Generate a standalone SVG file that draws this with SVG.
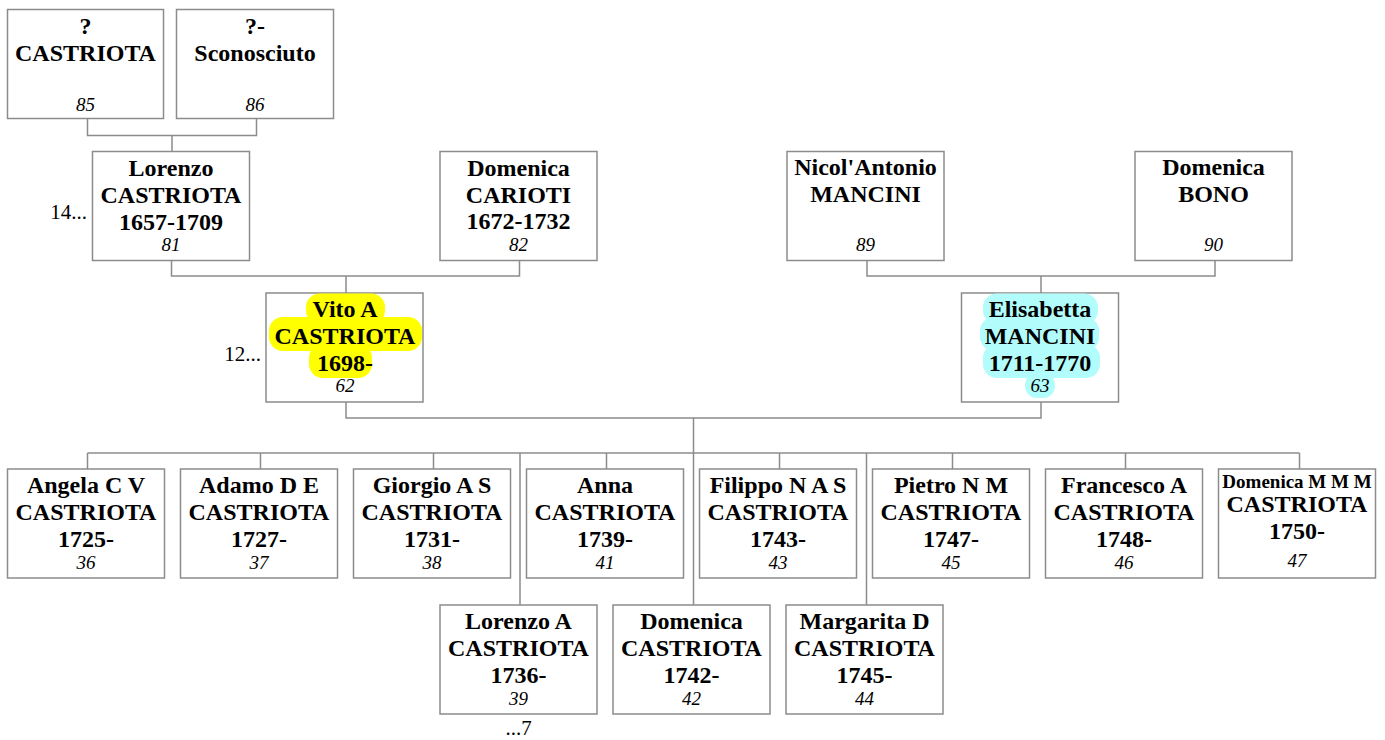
<svg xmlns="http://www.w3.org/2000/svg" width="1385" height="740" viewBox="0 0 1385 740">
<style>
rect.box{fill:#fff;stroke:#8c8c8c;stroke-width:1.5}
.n{font-family:"Liberation Serif","Times New Roman",serif;font-weight:bold;font-size:24px;text-anchor:middle;fill:#000}
.s{font-size:19px}
.id{font-family:"Liberation Serif","Times New Roman",serif;font-style:italic;font-size:19px;text-anchor:middle;fill:#000}
.lbl{font-family:"Liberation Serif","Times New Roman",serif;font-size:21px;fill:#000}
.conn path{fill:none;stroke:#8c8c8c;stroke-width:1.5}
.hy{fill:#ffff00}
.hc{fill:#b3fcfc}
</style>
<rect width="1385" height="740" fill="#fff"/>
<g class="conn" id="connectors">
<path d="M87.5,118.5 V135.5 H256.5 V118.5 M172,135.5 V151.5"/>
<path d="M171.5,260.5 V276 H519.5 V260.5 M346,276 V293"/>
<path d="M867,260.5 V276 H1215 V260.5 M1041,276 V293"/>
<path d="M346,402 V418 H1041 V402 M693.5,418 V453"/>
<path d="M87.5,453 H1299.5"/>
<path d="M87.5,453 V469 M260.5,453 V469 M433.5,453 V469 M606.5,453 V469 M779.5,453 V469 M952.5,453 V469 M1125.5,453 V469 M1299.5,453 V469"/>
<path d="M520,453 V605 M693.5,453 V605 M866.5,453 V605"/>
</g>
<g id="p85"><rect class="box" x="7.5" y="9.5" width="156" height="109"/>
<text class="n" x="85.5" y="34">?</text><text class="n" x="85.5" y="61">CASTRIOTA</text><text class="id" x="85.5" y="111">85</text></g>
<g id="p86"><rect class="box" x="176.5" y="9.5" width="157" height="109"/>
<text class="n" x="255" y="34">?-</text><text class="n" x="255" y="61">Sconosciuto</text><text class="id" x="255" y="111">86</text></g>
<g id="p81"><rect class="box" x="92.5" y="151.5" width="157" height="109"/>
<text class="n" x="171" y="176">Lorenzo</text><text class="n" x="171" y="203">CASTRIOTA</text><text class="n" x="171" y="229.5">1657-1709</text><text class="id" x="171" y="251">81</text>
<text class="lbl" x="87" y="219" text-anchor="end">14...</text></g>
<g id="p82"><rect class="box" x="440" y="151.5" width="157" height="109"/>
<text class="n" x="518.5" y="176">Domenica</text><text class="n" x="518.5" y="202.5">CARIOTI</text><text class="n" x="518.5" y="229">1672-1732</text><text class="id" x="518.5" y="251">82</text></g>
<g id="p89"><rect class="box" x="787" y="151.5" width="157" height="109"/>
<text class="n" x="865.5" y="175">Nicol'Antonio</text><text class="n" x="865.5" y="201.5">MANCINI</text><text class="id" x="865.5" y="251">89</text></g>
<g id="p90"><rect class="box" x="1135" y="151.5" width="157" height="109"/>
<text class="n" x="1213.5" y="175">Domenica</text><text class="n" x="1213.5" y="201.5">BONO</text><text class="id" x="1213.5" y="251">90</text></g>
<g id="p62"><rect class="box" x="266" y="293" width="157" height="109"/>
<rect class="hy" x="306" y="293.5" width="79" height="31" rx="14"/>
<rect class="hy" x="269" y="317" width="153" height="34" rx="14"/>
<rect class="hy" x="309" y="344" width="63" height="34" rx="14"/>
<text class="n" x="345" y="317">Vito A</text><text class="n" x="345" y="344">CASTRIOTA</text><text class="n" x="345" y="370.5">1698-</text><text class="id" x="345" y="392">62</text>
<text class="lbl" x="261" y="361" text-anchor="end">12...</text></g>
<g id="p63"><rect class="box" x="961.5" y="293" width="157" height="109"/>
<rect class="hc" x="983" y="293.5" width="115" height="31" rx="14"/>
<rect class="hc" x="980" y="317" width="119" height="34" rx="14"/>
<rect class="hc" x="983" y="344" width="117" height="34" rx="14"/>
<rect class="hc" x="1025" y="373" width="30" height="25" rx="12"/>
<text class="n" x="1040" y="317">Elisabetta</text><text class="n" x="1040" y="344">MANCINI</text><text class="n" x="1040" y="370.5">1711-1770</text><text class="id" x="1040" y="392">63</text></g>
<g id="p36"><rect class="box" x="7.5" y="469" width="157" height="109"/>
<text class="n" x="86" y="493">Angela C V</text><text class="n" x="86" y="519.5">CASTRIOTA</text><text class="n" x="86" y="546.5">1725-</text><text class="id" x="86" y="569">36</text></g>
<g id="p37"><rect class="box" x="180.5" y="469" width="157" height="109"/>
<text class="n" x="259" y="493">Adamo D E</text><text class="n" x="259" y="519.5">CASTRIOTA</text><text class="n" x="259" y="546.5">1727-</text><text class="id" x="259" y="569">37</text></g>
<g id="p38"><rect class="box" x="353.5" y="469" width="157" height="109"/>
<text class="n" x="432" y="493">Giorgio A S</text><text class="n" x="432" y="519.5">CASTRIOTA</text><text class="n" x="432" y="546.5">1731-</text><text class="id" x="432" y="569">38</text></g>
<g id="p41"><rect class="box" x="526.5" y="469" width="157" height="109"/>
<text class="n" x="605" y="493">Anna</text><text class="n" x="605" y="519.5">CASTRIOTA</text><text class="n" x="605" y="546.5">1739-</text><text class="id" x="605" y="569">41</text></g>
<g id="p43"><rect class="box" x="699.5" y="469" width="157" height="109"/>
<text class="n" x="778" y="493">Filippo N A S</text><text class="n" x="778" y="519.5">CASTRIOTA</text><text class="n" x="778" y="546.5">1743-</text><text class="id" x="778" y="569">43</text></g>
<g id="p45"><rect class="box" x="872.5" y="469" width="157" height="109"/>
<text class="n" x="951" y="493">Pietro N M</text><text class="n" x="951" y="519.5">CASTRIOTA</text><text class="n" x="951" y="546.5">1747-</text><text class="id" x="951" y="569">45</text></g>
<g id="p46"><rect class="box" x="1045.5" y="469" width="157" height="109"/>
<text class="n" x="1124" y="493">Francesco A</text><text class="n" x="1124" y="519.5">CASTRIOTA</text><text class="n" x="1124" y="546.5">1748-</text><text class="id" x="1124" y="569">46</text></g>
<g id="p47"><rect class="box" x="1218.5" y="469" width="157" height="109"/>
<text class="n s" x="1297" y="488">Domenica M M M</text><text class="n" x="1297" y="512">CASTRIOTA</text><text class="n" x="1297" y="538.5">1750-</text><text class="id" x="1297" y="567">47</text></g>
<g id="p39"><rect class="box" x="440" y="605" width="157" height="109"/>
<text class="n" x="518.5" y="629">Lorenzo A</text><text class="n" x="518.5" y="655.5">CASTRIOTA</text><text class="n" x="518.5" y="682.5">1736-</text><text class="id" x="518.5" y="705">39</text>
<text class="lbl" x="518.5" y="735" text-anchor="middle">...7</text></g>
<g id="p42"><rect class="box" x="613" y="605" width="157" height="109"/>
<text class="n" x="691.5" y="629">Domenica</text><text class="n" x="691.5" y="655.5">CASTRIOTA</text><text class="n" x="691.5" y="682.5">1742-</text><text class="id" x="691.5" y="705">42</text></g>
<g id="p44"><rect class="box" x="786" y="605" width="157" height="109"/>
<text class="n" x="864.5" y="629">Margarita D</text><text class="n" x="864.5" y="655.5">CASTRIOTA</text><text class="n" x="864.5" y="682.5">1745-</text><text class="id" x="864.5" y="705">44</text></g>
</svg>
